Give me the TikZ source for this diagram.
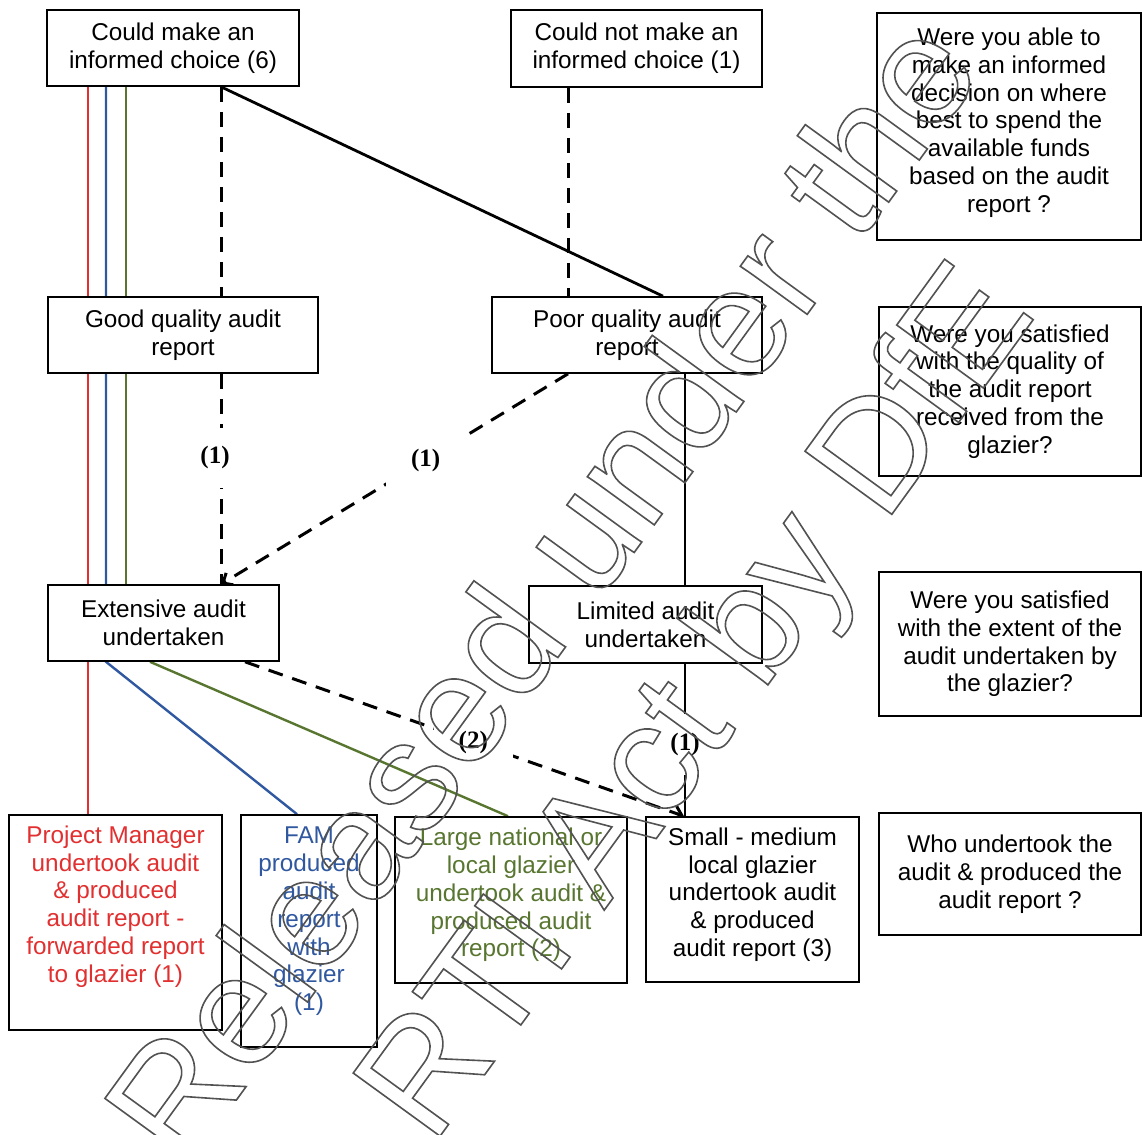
\documentclass[tikz,border=0pt]{standalone}
\usepackage{fontspec}
\setmainfont{Liberation Sans}
\newfontfamily\countfont{Liberation Serif}
\usetikzlibrary{arrows.meta,backgrounds,calc,positioning}
\definecolor{pmred}{RGB}{226,48,48}
\definecolor{famblue}{RGB}{48,88,160}
\definecolor{glzgreen}{RGB}{88,118,48}

% outlined watermark letters (stroke only, grey)
\newcommand{\wmon}{\special{pdf:literal direct 1 Tr 0.8 w 0.32 G}}
\newcommand{\wmoff}{\special{pdf:literal direct 0 Tr}}

\begin{document}
\begin{tikzpicture}[
    x=0.5pt, y=-0.5pt,
    box/.style={rectangle, draw=black, line width=0.8pt, fill=white, align=center,
                inner sep=0pt, font=\fontsize{12.15}{13.9}\selectfont},
    question/.style={box, line width=0.7pt},
    flowline/.style={line width=1.4pt, black},
    dashline/.style={line width=1.5pt, black, dash pattern=on 7.5pt off 5pt},
    redline/.style={line width=1.2pt, pmred},
    blueline/.style={line width=1.2pt, famblue},
    greenline/.style={line width=1.2pt, glzgreen},
    tip/.style={-{Straight Barb[length=4pt,width=7pt]}},
    count/.style={fill=white, font=\countfont\bfseries\fontsize{12.5}{14}\selectfont,
                  inner xsep=12.5pt, inner ysep=9.5pt}
]
\useasboundingbox (0,0) rectangle (1142,1135);

% Decision boxes
\node[box, minimum width=126pt, minimum height=38pt] (cmc) at (173,48)
     {Could make an\\informed choice (6)};
\node[box, minimum width=125.5pt, minimum height=38.5pt] (cnm) at (636.5,48.5)
     {Could not make an\\informed choice (1)};
\node[box, minimum width=135pt, minimum height=38pt] (good) at (183,335)
     {Good quality audit\\report};
\node[box, minimum width=135pt, minimum height=38pt] (poor) at (627,335)
     {Poor quality audit\\report};
\node[box, minimum width=115.5pt, minimum height=38pt] (ext) at (163.5,623)
     {Extensive audit\\undertaken};
\node[box, minimum width=116.5pt, minimum height=38.5pt] (lim) at (645.5,624.5)
     {Limited audit\\undertaken};

% Who produced the report
\node[box, text=pmred, minimum width=106.5pt, minimum height=107.5pt, text depth=18.5pt] (pm) at (115.5,922.5)
     {Project Manager\\undertook audit\\\& produced\\audit report -\\forwarded report\\to glazier (1)};
\node[box, text=famblue, minimum width=68pt, minimum height=116pt, text depth=12pt] (fam) at (309,931)
     {FAM\\produced\\audit\\report\\with\\glazier\\(1)};
\node[box, text=glzgreen, minimum width=116pt, minimum height=83pt, text depth=7.5pt] (large) at (511,900)
     {Large national or\\local glazier\\undertook audit \&\\produced audit\\report (2)};
\node[box, minimum width=106.5pt, minimum height=82.5pt, text depth=7.5pt] (small) at (752.5,899.5)
     {Small - medium\\local glazier\\undertook audit\\\& produced\\audit report (3)};

% Question boxes
\node[question, minimum width=132pt, minimum height=113.5pt, text depth=6.5pt] (q1) at (1009,126.5)
     {Were you able to\\make an informed\\decision on where\\best to spend the\\available funds\\based on the audit\\report ?};
\node[question, minimum width=131pt, minimum height=84.5pt] (q2) at (1010,391.5)
     {Were you satisfied\\with the quality of\\the audit report\\received from the\\glazier?};
\node[question, minimum width=131pt, minimum height=72pt] (q3) at (1010,644)
     {Were you satisfied\\with the extent of the\\audit undertaken by\\the glazier?};
\node[question, minimum width=131pt, minimum height=61pt] (q4) at (1010,874)
     {Who undertook the\\audit \& produced the\\audit report ?};

% Connectors
\begin{scope}[on background layer]
\draw[redline] (cmc.south -| 88,0) -- (pm.north -| 88,0);
\draw[blueline] (cmc.south -| 106,0) -- (ext.south -| 106,0) -- (fam.north -| 297,0);
\draw[greenline] (cmc.south -| 126,0) -- (ext.north -| 126,0);
\draw[greenline] (ext.south -| 150,0) -- (large.north -| 508,0);

\draw[flowline] (cmc.south -| 221,0) -- (poor.north -| 663,0);
\draw[dashline] (cmc.south -| 221,0) -- (good.north -| 221,0);
\draw[dashline] (cnm.south -| 568,0) -- (poor.north -| 568,0);

\draw[dashline] (good.south -| 221,0) -- node[count, pos=0.4, xshift=-3pt] (n1) {(1)} (ext.north -| 221,0);
\draw[dashline, tip] (poor.south -| 568,0) -- node[count, pos=0.41] (n2) {(1)} (ext.north -| 221,0);

\draw[flowline] (poor.south -| 685,0) -- (lim.north -| 685,0);
\draw[flowline] (lim.south -| 685,0) -- node[count, pos=0.53] (n3) {(1)} (small.north -| 685,0);
\draw[dashline, tip] (ext.south -| 245,0) -- node[count, pos=0.52] (n4) {(2)} (small.north -| 684,0);
\end{scope}

% Watermark
\node[rotate=54, align=center, text=white, inner sep=0pt,
      font=\fontsize{78}{93}\selectfont] (wm) at (627,652)
     {\wmon Released under the\\RTI Act by DfE\wmoff};

\end{tikzpicture}
\end{document}
